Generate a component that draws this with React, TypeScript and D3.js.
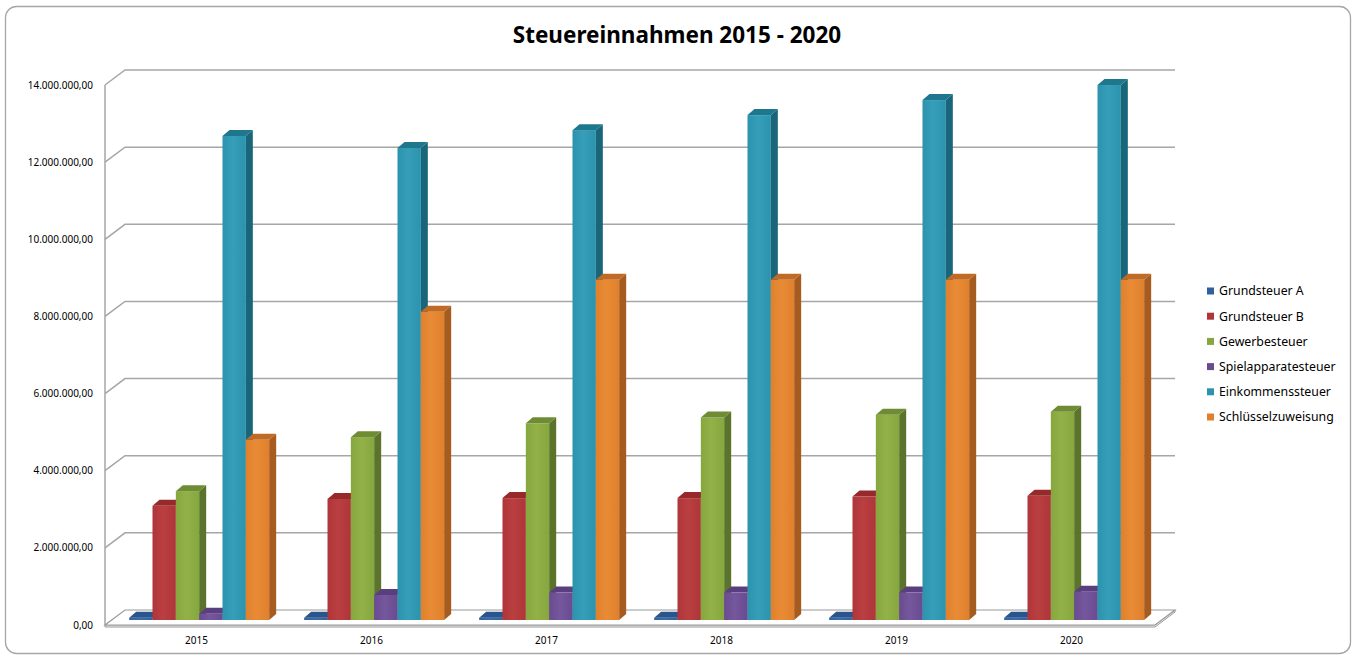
import React from "react";
import * as d3 from "d3";

const years = ["2015", "2016", "2017", "2018", "2019", "2020"];
const seriesNames = [
  "Grundsteuer A",
  "Grundsteuer B",
  "Gewerbesteuer",
  "Spielapparatesteuer",
  "Einkommenssteuer",
  "Schlüsselzuweisung",
];
const grundsteuerA = [60000, 60000, 60000, 60000, 60000, 60000];
const grundsteuerB = [2960000, 3140000, 3160000, 3160000, 3200000, 3220000];
const gewerbesteuer = [3340000, 4740000, 5100000, 5250000, 5320000, 5400000];
const spielapparatesteuer = [160000, 650000, 710000, 710000, 710000, 730000];
const einkommenssteuer = [12550000, 12240000, 12700000, 13090000, 13480000, 13870000];
const schluesselzuweisung = [4670000, 7990000, 8820000, 8820000, 8820000, 8820000];
const yTicks = [0, 2000000, 4000000, 6000000, 8000000, 10000000, 12000000, 14000000];

const seriesValues = [
  grundsteuerA,
  grundsteuerB,
  gewerbesteuer,
  spielapparatesteuer,
  einkommenssteuer,
  schluesselzuweisung,
];

const faceColors = [
  { front: "#30609f", light: "#3a6cab", side: "#21436f", top: "#2a558c" },
  { front: "#b0353a", light: "#ba3f40", side: "#7e2224", top: "#97292a" },
  { front: "#86a73e", light: "#92b248", side: "#5b742c", top: "#6f8c34" },
  { front: "#6a4b92", light: "#75579e", side: "#4a336b", top: "#5a3f80" },
  { front: "#2c93ae", light: "#369eb9", side: "#19667b", top: "#1f778e" },
  { front: "#e0802c", light: "#e98b36", side: "#a65b1f", top: "#c06a24" },
];

const fmt = (v: number) => {
  const s = d3.format(",.2f")(v);
  return s.replace(/,/g, "#").replace(/\./g, ",").replace(/#/g, ".");
};

export default function App() {
  const W = 1352;
  const H = 657;
  const left = 105;
  const right = 1155;
  const wallDx = 20;
  const wallDy = -15;
  const barOffX = 6.67;
  const barOffY = -5;
  const bdx = 7;
  const bdy = -6;

  const y = d3.scaleLinear().domain([0, 14000000]).range([625, 85]);
  const xCat = d3.scaleBand<string>().domain(years).range([left, right]).padding(0);
  const cw = xCat.bandwidth();
  const xSer = d3
    .scaleBand<string>()
    .domain(seriesNames)
    .range([cw * 0.1, cw * 0.9])
    .padding(0);
  const bw = xSer.bandwidth();

  const font = "'Noto Sans', 'Open Sans', sans-serif";

  const bars: React.ReactNode[] = [];
  years.forEach((yr, ci) => {
    seriesNames.forEach((sn, si) => {
      const v = seriesValues[si][ci];
      const x0 = (xCat(yr) as number) + (xSer(sn) as number) + barOffX;
      const yb = y(0) + barOffY;
      const yt = y(v) + barOffY;
      const c = faceColors[si];
      const x1 = x0 + bw;
      bars.push(
        <g key={`${yr}-${sn}`}>
          <rect x={x0} y={yt} width={bw} height={yb - yt} fill={`url(#grad${si})`} />
          <polygon
            points={`${x1},${yt} ${x1 + bdx},${yt + bdy} ${x1 + bdx},${yb + bdy} ${x1},${yb}`}
            fill={c.side}
          />
          <polygon
            points={`${x0},${yt} ${x0 + bdx},${yt + bdy} ${x1 + bdx},${yt + bdy} ${x1},${yt}`}
            fill={c.top}
          />
        </g>
      );
    });
  });

  const legendX = 1207;
  const legendY0 = 291;
  const legendStep = 25.2;

  return (
    <svg
      width={W}
      height={H}
      style={{ position: "absolute", left: 0, top: 0, background: "#fff" }}
    >
      <defs>
        {faceColors.map((c, i) => (
          <linearGradient key={i} id={`grad${i}`} x1="0" x2="1" y1="0" y2="0">
            <stop offset="0" stopColor={c.front} />
            <stop offset="0.45" stopColor={c.light} />
            <stop offset="1" stopColor={c.front} />
          </linearGradient>
        ))}
      </defs>
      <rect x={5.5} y={6.5} width={1345} height={647} rx={11} ry={11} fill="#fff" stroke="#a6a6a6" strokeWidth={1.3} />

      <text
        x={677}
        y={43}
        textAnchor="middle"
        fontFamily={font}
        fontWeight="bold"
        fontSize={22.5}
        fill="#000"
      >
        Steuereinnahmen 2015 - 2020
      </text>

      {/* floor */}
      <polygon
        points={`${left},${y(0)} ${right},${y(0)} ${right + wallDx},${y(0) + wallDy} ${right + wallDx},${y(0) + wallDy + 2} ${right},${y(0) + 2} ${left},${y(0) + 2}`}
        fill="#f2f2f2"
        stroke="#9a9a9a"
        strokeWidth={1}
      />
      <polygon
        points={`${left},${y(0)} ${right},${y(0)} ${right + wallDx},${y(0) + wallDy} ${left + wallDx},${y(0) + wallDy}`}
        fill="#fff"
        stroke="#9a9a9a"
        strokeWidth={1.2}
      />

      {/* gridlines on back wall */}
      {yTicks.filter((t) => t > 0).map((t) => (
        <path
          key={t}
          d={`M${left},${y(t)} L${left + wallDx},${y(t) + wallDy} L${right + wallDx},${y(t) + wallDy}`}
          fill="none"
          stroke="#a6a6a6"
          strokeWidth={1.5}
        />
      ))}
      <line x1={left} x2={left} y1={y(14000000)} y2={y(0)} stroke="#a6a6a6" strokeWidth={1.5} />

      {/* y labels */}
      {yTicks.map((t) => (
        <text
          key={t}
          x={93}
          y={y(t)}
          dy="0.35em"
          textAnchor="end"
          fontFamily={font}
          fontSize={10}
          fill="#000"
        >
          {fmt(t)}
        </text>
      ))}

      {/* x labels */}
      {years.map((yr) => (
        <text
          key={yr}
          x={(xCat(yr) as number) + cw / 2 + 4}
          y={640}
          dy="0.35em"
          textAnchor="middle"
          fontFamily={font}
          fontSize={10}
          fill="#000"
        >
          {yr}
        </text>
      ))}

      {bars}

      {/* legend */}
      {seriesNames.map((sn, i) => (
        <g key={sn} transform={`translate(${legendX},${legendY0 + i * legendStep})`}>
          <rect x={0} y={-3.5} width={7} height={7} fill={faceColors[i].front} />
          <text x={12} y={0} dy="0.35em" fontFamily={font} fontSize={12.3} fill="#000">
            {sn}
          </text>
        </g>
      ))}
    </svg>
  );
}
